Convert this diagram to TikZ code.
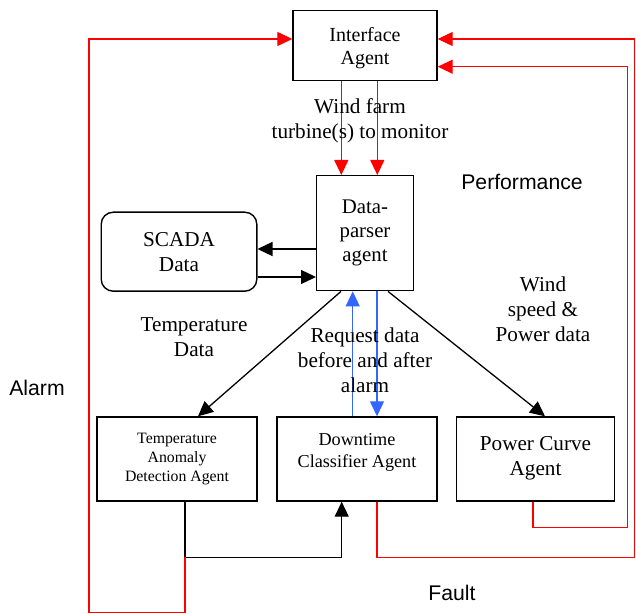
\documentclass[tikz,border=0pt]{standalone}
\usepackage{fontspec}
\setmainfont{Liberation Serif}
\setsansfont{Liberation Sans}
\usetikzlibrary{arrows.meta,positioning,calc}
\definecolor{linkblue}{RGB}{51,102,255}

\begin{document}
\begin{tikzpicture}[
        x=0.5pt, y=-0.5pt,
        every node/.style={align=center, font=\fontsize{10.6}{12.5}\selectfont},
        agent/.style={draw, line width=0.7pt, minimum width=80pt, minimum height=42pt, inner sep=1pt},
        store/.style={draw, rounded corners=6pt, line width=0.7pt, minimum width=77.8pt, minimum height=39.5pt},
        note/.style={font=\fontsize{10.6}{12.5}\sffamily\selectfont},
        flow/.style={-{Triangle[length=7.5pt,width=7pt]}, line width=0.65pt},
        alarm/.style={flow, red, line width=0.6pt},
        query/.style={flow, linkblue, line width=0.6pt}
    ]
    \useasboundingbox (0,0) rectangle (636,614);

    \node (iface) [agent, minimum width=72pt, minimum height=35pt, text depth=0pt, font=\fontsize{10}{11.5}\selectfont] at (365,45.7) {Interface\\Agent};
    \node (parser) [agent, minimum width=48.3pt, minimum height=57.5pt, font=\fontsize{10.4}{12}\selectfont] at (365,233.2) {Data-\\parser\\agent};
    \node (scada) [store] at (179,251.7) {SCADA\\Data};
    \node (temp) [agent, text depth=1.4pt, font=\fontsize{7.9}{9.5}\selectfont] at (177,459) {Temperature\\Anomaly\\Detection Agent};
    \node (down) [agent, text depth=9pt, font=\fontsize{9.1}{11}\selectfont] at (357,459) {Downtime\\Classifier Agent};
    \node (curve) [agent, text depth=2.8pt, minimum width=78.8pt] at (535.5,459) {Power Curve\\Agent};

    % turbines to watch
    \draw[alarm] ([xshift=-11.85pt]iface.south) -- ([xshift=-11.85pt]iface.south |- parser.north);
    \draw[alarm] ([xshift=6.15pt]iface.south) -- ([xshift=6.15pt]iface.south |- parser.north);

    % SCADA exchange
    \draw[flow] ([yshift=-7.9pt]parser.west) -- ([yshift=-7.9pt]parser.west -| scada.east);
    \draw[flow] ([yshift=-21.9pt]parser.west -| scada.east) -- ([yshift=-21.9pt]parser.west);

    % data out to the agents
    \draw[flow] ([xshift=-12pt]parser.south) -- ([xshift=10.5pt]temp.north);
    \draw[flow] ([xshift=11.5pt]parser.south) -- ([xshift=4.75pt]curve.north);
    \draw[query] ([xshift=-2.15pt]down.north) -- ([xshift=-2.15pt]down.north |- parser.south);
    \draw[query] ([xshift=10pt]down.north |- parser.south) -- ([xshift=10pt]down.north);
    \draw[flow] ([xshift=4pt]temp.south) -- ++(0,55.6) coordinate (split) -| ([xshift=-7.65pt]down.south);

    % back to the interface
    \draw[alarm] (split) |- (89,612.7) |- ([yshift=3.35pt]iface.west);
    \draw[alarm] ([xshift=10pt]down.south) |- (634.5,557.3) |- ([yshift=3.35pt]iface.east);
    \draw[alarm] ([xshift=-1.25pt]curve.south) |- (627.5,527.7) |- ([yshift=-10.5pt]iface.east);

    \node (wfarm) at (360,120.5) {Wind farm\\turbine(s) to monitor};
    \node (tdata) at (194,337.5) {Temperature\\Data};
    \node (wspeed) at (543,309) {Wind\\speed \&\\Power data};
    \node (request) at (365,360) {Request data\\before and after\\alarm};
    \node (perf) [note] at (522,182) {Performance};
    \node (alarmtxt) [note] at (37,388) {Alarm};
    \node (fault) [note] at (452,593) {Fault};
\end{tikzpicture}
\end{document}
